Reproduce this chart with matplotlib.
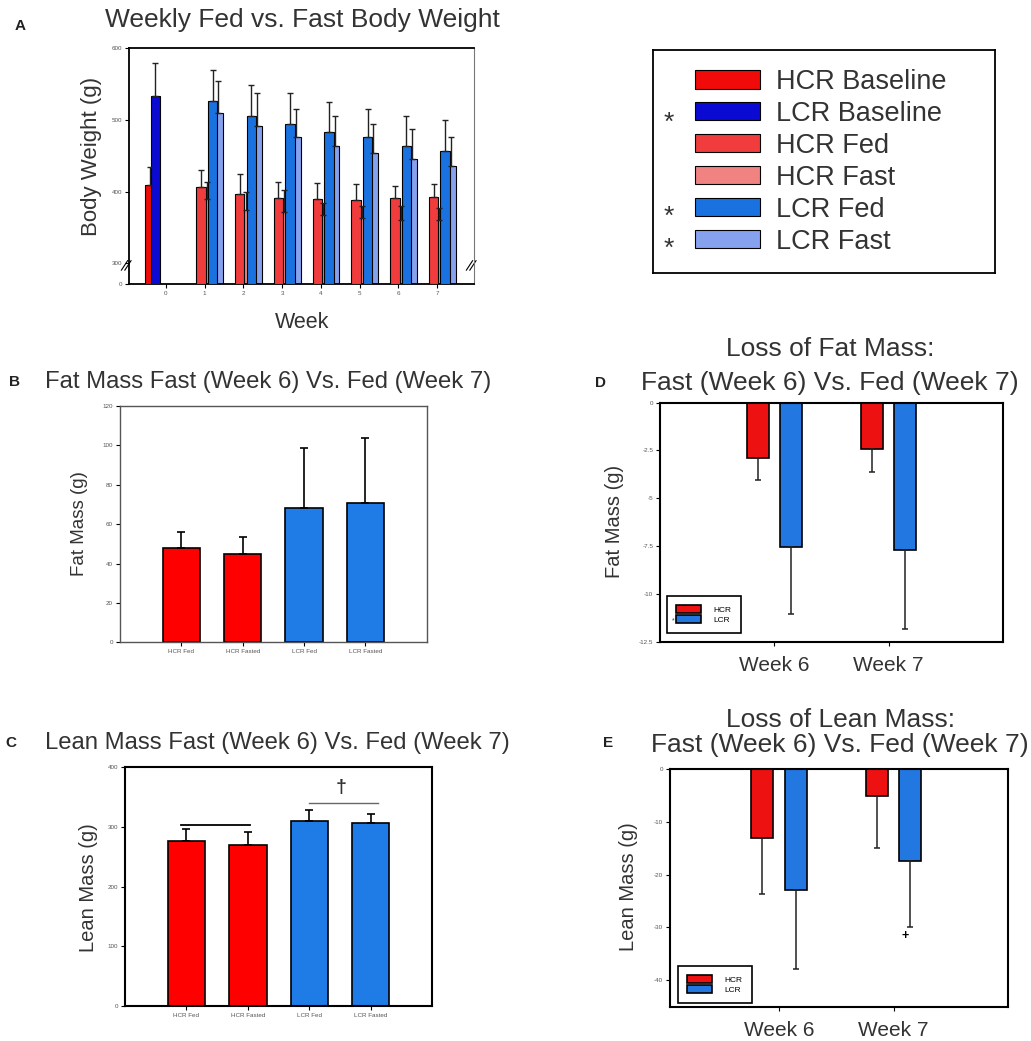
import numpy as np
import matplotlib
matplotlib.use("Agg")
import matplotlib.pyplot as plt
from matplotlib.ticker import FuncFormatter

plt.rcParams["font.family"] = "Liberation Sans"

# ---- panel A: weekly fed vs fast body weight (g) ----
weeks = [1, 2, 3, 4, 5, 6, 7]
hcr_baseline, hcr_baseline_err = 409, 26
lcr_baseline, lcr_baseline_err = 534, 46
hcr_fed = [406, 397, 391, 390, 389, 391, 393]
hcr_fed_err = [24, 27, 23, 22, 22, 17, 18]
hcr_fast = [390, 375, 371, 367, 363, 361, 361]
hcr_fast_err = [24, 24, 31, 17, 17, 19, 16]
lcr_fed = [526, 506, 495, 483, 476, 464, 457]
lcr_fed_err = [44, 43, 43, 42, 39, 42, 43]
lcr_fast = [510, 491, 476, 464, 454, 446, 436]
lcr_fast_err = [45, 47, 39, 42, 40, 41, 40]

# ---- panels B / C ----
groups = ["HCR Fed", "HCR Fasted", "LCR Fed", "LCR Fasted"]
fat_mass = [48.1, 44.9, 68.3, 70.7]
fat_mass_err = [8.0, 8.8, 30.2, 33.2]
lean_mass = [277, 270, 310, 306]
lean_mass_err = [19, 22, 18, 15]

# ---- panels D / E ----
loss_weeks = ["Week 6", "Week 7"]
fat_loss_hcr = [-2.87, -2.44]
fat_loss_hcr_err = [1.17, 1.17]
fat_loss_lcr = [-7.56, -7.70]
fat_loss_lcr_err = [3.49, 4.13]
lean_loss_hcr = [-13.0, -5.1]
lean_loss_hcr_err = [10.75, 9.9]
lean_loss_lcr = [-23.0, -17.4]
lean_loss_lcr_err = [14.9, 12.6]

W, H = 1031, 1041
def px(x, y):
    return x / W, 1 - y / H

c_hcr_base, c_lcr_base = "#f00a0a", "#0a0ad2"
c_hcr_fed, c_hcr_fast = "#f03c3c", "#f08282"
c_lcr_fed, c_lcr_fast = "#1a72e0", "#86a2ee"
red, blue = "#ff0000", "#1f7be6"
tick_fs = 4.5
txt = "#333333"

fig = plt.figure(figsize=(10.31, 10.41), dpi=100)


def style_axis(ax, lw=1.3, col="black"):
    for s in ax.spines.values():
        s.set_linewidth(lw)
        s.set_color(col)
    ax.tick_params(axis="both", direction="out", length=3, width=0.8,
                   labelsize=tick_fs, labelcolor="#555555", pad=2)


# broken y axis for panel A: 0..300 squeezed
def fwd(v):
    v = np.asarray(v, dtype=float)
    return np.where(v >= 300, v, 270.7 + v * 29.3 / 300)

def inv(t):
    t = np.asarray(t, dtype=float)
    return np.where(t >= 300, t, (t - 270.7) * 300 / 29.3)

axA = fig.add_axes([0.1251, 0.7269, 0.3346, 0.2267])
axA.set_yscale("function", functions=(fwd, inv))
bw, step = 0.245, 0.15
offs = -0.215 + bw / 2 + step * np.arange(4)
xw = np.array(weeks)
ek = dict(fmt="none", ecolor="#222222", elinewidth=1.0, capsize=2, capthick=1.0, zorder=6)

b_hfast = axA.bar(xw + offs[1], hcr_fast, bw, color=c_hcr_fast, edgecolor="k", lw=0.8, zorder=2)
b_lfast = axA.bar(xw + offs[3], lcr_fast, bw, color=c_lcr_fast, edgecolor="k", lw=0.8, zorder=2)
b_hfed = axA.bar(xw + offs[0], hcr_fed, bw, color=c_hcr_fed, edgecolor="k", lw=0.8, zorder=3)
b_lfed = axA.bar(xw + offs[2], lcr_fed, bw, color=c_lcr_fed, edgecolor="k", lw=0.8, zorder=3)
base_off = -0.54 + bw / 2
b_hbase = axA.bar([base_off], [hcr_baseline], bw, color=c_hcr_base, edgecolor="k", lw=0.8, zorder=3)
b_lbase = axA.bar([base_off + step], [lcr_baseline], bw, color=c_lcr_base, edgecolor="k", lw=0.8, zorder=4)

for xs, ys, es in [(xw + offs[1], hcr_fast, hcr_fast_err), (xw + offs[3], lcr_fast, lcr_fast_err),
                   (xw + offs[0], hcr_fed, hcr_fed_err), (xw + offs[2], lcr_fed, lcr_fed_err),
                   ([base_off], [hcr_baseline], [hcr_baseline_err]),
                   ([base_off + step], [lcr_baseline], [lcr_baseline_err])]:
    axA.errorbar(xs, ys, yerr=[np.zeros(len(es)), es], **ek)

axA.set_xlim(-0.95, 7.95)
axA.set_ylim(0, 600)
axA.set_yticks([0, 300, 400, 500, 600])
axA.set_xticks(range(0, 8))
style_axis(axA)
axA.spines["right"].set_color("#777777")
axA.spines["right"].set_linewidth(0.8)
for xa in (0.0, 1.0):
    axA.plot([xa - 0.012, xa + 0.006], [0.06, 0.10], color="k", lw=0.8,
             transform=axA.transAxes, clip_on=False)
    axA.plot([xa - 0.022, xa - 0.004], [0.06, 0.10], color="k", lw=0.8,
             transform=axA.transAxes, clip_on=False)
fig.text(*px(302, 20), "Weekly Fed vs. Fast Body Weight", ha="center", va="center", fontsize=19, color=txt)
fig.text(*px(92, 156), "Body Weight (g)", rotation=90, ha="center", va="center", fontsize=16, color=txt)
fig.text(*px(302, 322), "Week", ha="center", va="center", fontsize=15.5, color=txt)

# legend box
axL = fig.add_axes([0.6337, 0.7375, 0.3314, 0.2145])
axL.set_xticks([])
axL.set_yticks([])
for s in axL.spines.values():
    s.set_linewidth(1.3)
axL.legend([b_hbase, b_lbase, b_hfed, b_hfast, b_lfed, b_lfast],
           ["HCR Baseline", "LCR Baseline", "HCR Fed", "HCR Fast", "LCR Fed", "LCR Fast"],
           loc="center left", bbox_to_anchor=(0.122, 0.5), frameon=False, fontsize=19.5,
           handlelength=2.4, handleheight=0.68, labelspacing=0.22, handletextpad=0.6,
           borderpad=0, borderaxespad=0, labelcolor=txt)
for yy in (115, 209, 241):
    fig.text(*px(669, yy + 15), "*", ha="center", va="baseline", fontsize=19, color=txt)

# ---- panel B ----
xg = np.arange(len(groups))
cols = [red, red, blue, blue]
axB = fig.add_axes([0.1164, 0.383, 0.2975, 0.227])
axB.bar(xg, fat_mass, 0.61, color=cols, edgecolor="k", lw=1.2, zorder=2)
axB.errorbar(xg, fat_mass, yerr=[np.zeros(4), fat_mass_err], fmt="none", ecolor="k",
             elinewidth=1.2, capsize=3, capthick=1.2, zorder=3)
axB.set_xlim(-1, 4)
axB.set_ylim(0, 120)
axB.set_yticks(range(0, 121, 20))
axB.set_xticks(xg)
axB.set_xticklabels(groups)
style_axis(axB, lw=1.0, col="#555555")
fig.text(*px(268, 382), "Fat Mass Fast (Week 6) Vs. Fed (Week 7)", ha="center", va="center", fontsize=17.2, color=txt)
fig.text(*px(80, 524), "Fat Mass (g)", rotation=90, ha="center", va="center", fontsize=13.5, color=txt)

# ---- panel C ----
axC = fig.add_axes([0.1212, 0.0336, 0.298, 0.2293])
axC.bar(xg, lean_mass, 0.61, color=cols, edgecolor="k", lw=1.2, zorder=2)
axC.errorbar(xg, lean_mass, yerr=[np.zeros(4), lean_mass_err], fmt="none", ecolor="k",
             elinewidth=1.2, capsize=3, capthick=1.2, zorder=3)
axC.plot([-0.08, 1.03], [303, 303], color="k", lw=1.3)
axC.plot([2.0, 3.12], [339.5, 339.5], color="#666666", lw=1.0)
axC.text(2.51, 366, "\u2020", ha="center", va="center", fontsize=14, fontweight="bold", color=txt)
axC.set_xlim(-1, 4)
axC.set_ylim(0, 400)
axC.set_yticks(range(0, 401, 100))
axC.set_xticks(xg)
axC.set_xticklabels(groups)
style_axis(axC, lw=1.5)
fig.text(*px(277, 743), "Lean Mass Fast (Week 6) Vs. Fed (Week 7)", ha="center", va="center", fontsize=17.2, color=txt)
fig.text(*px(88, 888), "Lean Mass (g)", rotation=90, ha="center", va="center", fontsize=14.5, color=txt)

# ---- panels D / E ----
xl = np.array([1, 2])
def loss_panel(rect, hcr, hcr_err, lcr, lcr_err, ylim, yticks, xlim):
    ax = fig.add_axes(rect)
    bh = ax.bar(xl - 0.145, hcr, 0.19, color="#ee1111", edgecolor="k", lw=1.2, label="HCR", zorder=2)
    bl = ax.bar(xl + 0.145, lcr, 0.19, color="#2277e0", edgecolor="k", lw=1.2, label="LCR", zorder=2)
    ax.errorbar(xl - 0.145, hcr, yerr=[hcr_err, np.zeros(2)], fmt="none", ecolor="#222222",
                elinewidth=1.1, capsize=2.5, capthick=1.1, zorder=3)
    ax.errorbar(xl + 0.145, lcr, yerr=[lcr_err, np.zeros(2)], fmt="none", ecolor="#222222",
                elinewidth=1.1, capsize=2.5, capthick=1.1, zorder=3)
    ax.set_xlim(*xlim)
    ax.set_ylim(*ylim)
    ax.set_yticks(yticks)
    ax.yaxis.set_major_formatter(FuncFormatter(lambda v, p: "{:g}".format(v)))
    ax.set_xticks(xl)
    ax.set_xticklabels(loss_weeks)
    style_axis(ax, lw=1.5)
    ax.tick_params(axis="x", labelsize=15, labelcolor=txt, pad=7)
    leg = ax.legend(loc="lower left", fontsize=6, handlelength=3.0, handleheight=1.2,
                    borderaxespad=0, borderpad=1.1, labelspacing=0.1, handletextpad=1.5,
                    fancybox=False, edgecolor="k", framealpha=1)
    leg.get_frame().set_linewidth(1.2)
    return ax, leg

axD, legD = loss_panel([0.6402, 0.3836, 0.3327, 0.2296], fat_loss_hcr, fat_loss_hcr_err,
                       fat_loss_lcr, fat_loss_lcr_err, (-12.5, 0),
                       [0, -2.5, -5, -7.5, -10, -12.5], (0, 3))
legD.set_bbox_to_anchor((0.02, 0.036), transform=axD.transAxes)
fig.text(*px(673, 621), "*", ha="center", va="center", fontsize=5, color=txt)
fig.text(*px(830, 349), "Loss of Fat Mass:", ha="center", va="center", fontsize=19, color=txt)
fig.text(*px(830, 383), "Fast (Week 6) Vs. Fed (Week 7)", ha="center", va="center", fontsize=19, color=txt)
fig.text(*px(615, 521), "Fat Mass (g)", rotation=90, ha="center", va="center", fontsize=14.5, color=txt)

axE, legE = loss_panel([0.6499, 0.033, 0.3281, 0.2283], lean_loss_hcr, lean_loss_hcr_err,
                       lean_loss_lcr, lean_loss_lcr_err, (-45, 0),
                       [0, -10, -20, -30, -40], (0.05, 3.0))
legE.set_bbox_to_anchor((0.024, 0.016), transform=axE.transAxes)
axE.text(2.10, -31.6, "+", ha="center", va="center", fontsize=9, fontweight="bold")
fig.text(*px(840, 720), "Loss of Lean Mass:", ha="center", va="center", fontsize=19, color=txt)
fig.text(*px(840, 745), "Fast (Week 6) Vs. Fed (Week 7)", ha="center", va="center", fontsize=19, color=txt)
fig.text(*px(628, 887), "Lean Mass (g)", rotation=90, ha="center", va="center", fontsize=14.5, color=txt)

# panel letters
for lx, ly, let in [(20, 26, "A"), (14, 382, "B"), (11, 743, "C"), (600, 383, "D"), (608, 743, "E")]:
    fig.text(*px(lx, ly), let, ha="center", va="center", fontsize=11, fontweight="bold", color="#222222")

fig.savefig("out.png", dpi=100)
